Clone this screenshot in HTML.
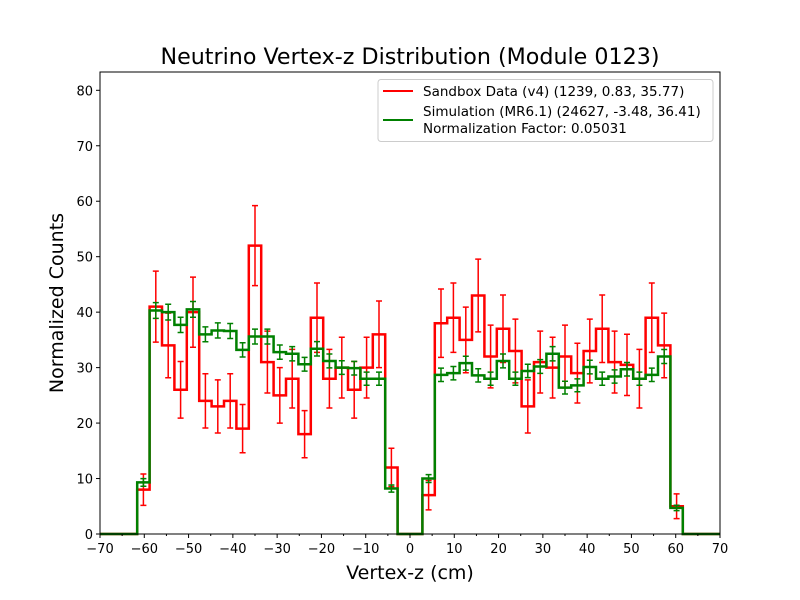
<!DOCTYPE html>
<html><head><meta charset="utf-8"><style>
body{margin:0;background:#fff}
svg{display:block;font-family:"DejaVu Sans","Liberation Sans",sans-serif}
</style></head><body>
<svg id="chart" width="800" height="600" viewBox="0 0 800 600">
<rect width="800" height="600" fill="#fff"/>
<text x="410" y="64" font-size="22.2" text-anchor="middle">Neutrino Vertex-z Distribution (Module 0123)</text>
<g id="plot"></g>
<rect x="100" y="72" width="620" height="462" fill="none" stroke="#000" stroke-width="1"/>
<g id="xticks"></g><g id="yticks"></g>
<text x="410" y="579" font-size="19" text-anchor="middle">Vertex-z (cm)</text>
<text transform="translate(63,303) rotate(-90)" font-size="19" text-anchor="middle">Normalized Counts</text>
<g>
<rect x="378" y="79.5" width="335" height="62" rx="3" fill="#fff" fill-opacity="0.8" stroke="#ccc"/>
<line x1="383" y1="91" x2="413" y2="91" stroke="#ff0000" stroke-width="2"/>
<text x="423" y="96" font-size="13.5">Sandbox Data (v4) (1239, 0.83, 35.77)</text>
<line x1="383" y1="120" x2="413" y2="120" stroke="#008000" stroke-width="2"/>
<text x="423" y="116" font-size="13.5">Simulation (MR6.1) (24627, -3.48, 36.41)</text>
<text x="423" y="133" font-size="13.5">Normalization Factor: 0.05031</text>
</g>
</svg>
<script>
const binEdgesStart = -70, binWidth = 2.8;
const dataValues = [0,0,0,8,41,34,26,40,24,23,24,19,52,31,25,28,18,39,28,30,26,30,36,12,0,0,7,38,39,35,43,32,37,33,23,31,30,32,29,33,37,31,30.5,28,39,34,5,0,0,0];
const simValues = [0,0,0,9.3,40.3,40,37.7,40.5,36,36.7,36.6,33.2,35.6,35.6,32.8,32.5,30.6,33.4,31.2,30,29.9,28,28,8.2,0,0,10,28.7,29,30.8,28.6,28,31.2,28,29.4,30.2,32.5,26.4,26.8,30.1,28,28.4,29.7,28,28.7,32,4.7,0,0,0];
const normFactor = 0.05031;
const xTicks = [-70,-60,-50,-40,-30,-20,-10,0,10,20,30,40,50,60,70];
const yTicks = [0,10,20,30,40,50,60,70,80];
const NS='http://www.w3.org/2000/svg';
const X0=100,X1=720,Y0=534,YT=72, xmin=-70,xmax=70,ymax=83.3;
const sx=v=>X0+(v-xmin)/(xmax-xmin)*(X1-X0);
const sy=v=>Y0-v/ymax*(Y0-YT);
function mk(tag,attrs,parent){const e=document.createElementNS(NS,tag);for(const k in attrs)e.setAttribute(k,attrs[k]);parent.appendChild(e);return e;}
const plot=document.getElementById('plot');
function drawSeries(vals,color,errs,name){
  let d='';
  vals.forEach((v,i)=>{const a=sx(binEdgesStart+i*binWidth),b=sx(binEdgesStart+(i+1)*binWidth);
    d+=(i===0?'M':'L')+a+','+sy(v)+'L'+b+','+sy(v);});
  const p=mk('path',{d:d,fill:'none',stroke:color,'stroke-width':2.5},plot);
  
  
  vals.forEach((v,i)=>{if(v<=0)return;const c=sx(binEdgesStart+(i+0.5)*binWidth);const e=errs[i];
    const g=mk('path',{d:`M${c},${sy(v-e)}L${c},${sy(v+e)}M${c-3},${sy(v-e)}L${c+3},${sy(v-e)}M${c-3},${sy(v+e)}L${c+3},${sy(v+e)}`,stroke:color,'stroke-width':1.5,fill:'none'},plot);
    
    
  });
}
drawSeries(dataValues,'#ff0000',dataValues.map(v=>Math.sqrt(v)),'data');
drawSeries(simValues,'#008000',simValues.map(v=>Math.sqrt(v*normFactor)),'sim');
const xt=document.getElementById('xticks');
xTicks.forEach(t=>{const x=sx(t);
  const l=mk('line',{x1:x,x2:x,y1:Y0,y2:Y0+4,stroke:'#000'},xt);
  
  
  const s=mk('text',{x:x,y:Y0+19,'font-size':13,'text-anchor':'middle'},xt);
  s.textContent=t<0?'\u2212'+(-t):String(t);
  
  
});
for(let t=-65;t<=65;t+=10){const x=sx(t);
  const l=mk('line',{x1:x,x2:x,y1:Y0,y2:Y0+2,stroke:'#000'},xt);
  
  
}
const yt=document.getElementById('yticks');
yTicks.forEach(t=>{const y=sy(t);
  const l=mk('line',{x1:X0-4,x2:X0,y1:y,y2:y,stroke:'#000'},yt);
  
  
  const s=mk('text',{x:X0-7,y:y+5,'font-size':13,'text-anchor':'end'},yt);
  s.textContent=String(t);
  
  
});
</script>
</body></html>
